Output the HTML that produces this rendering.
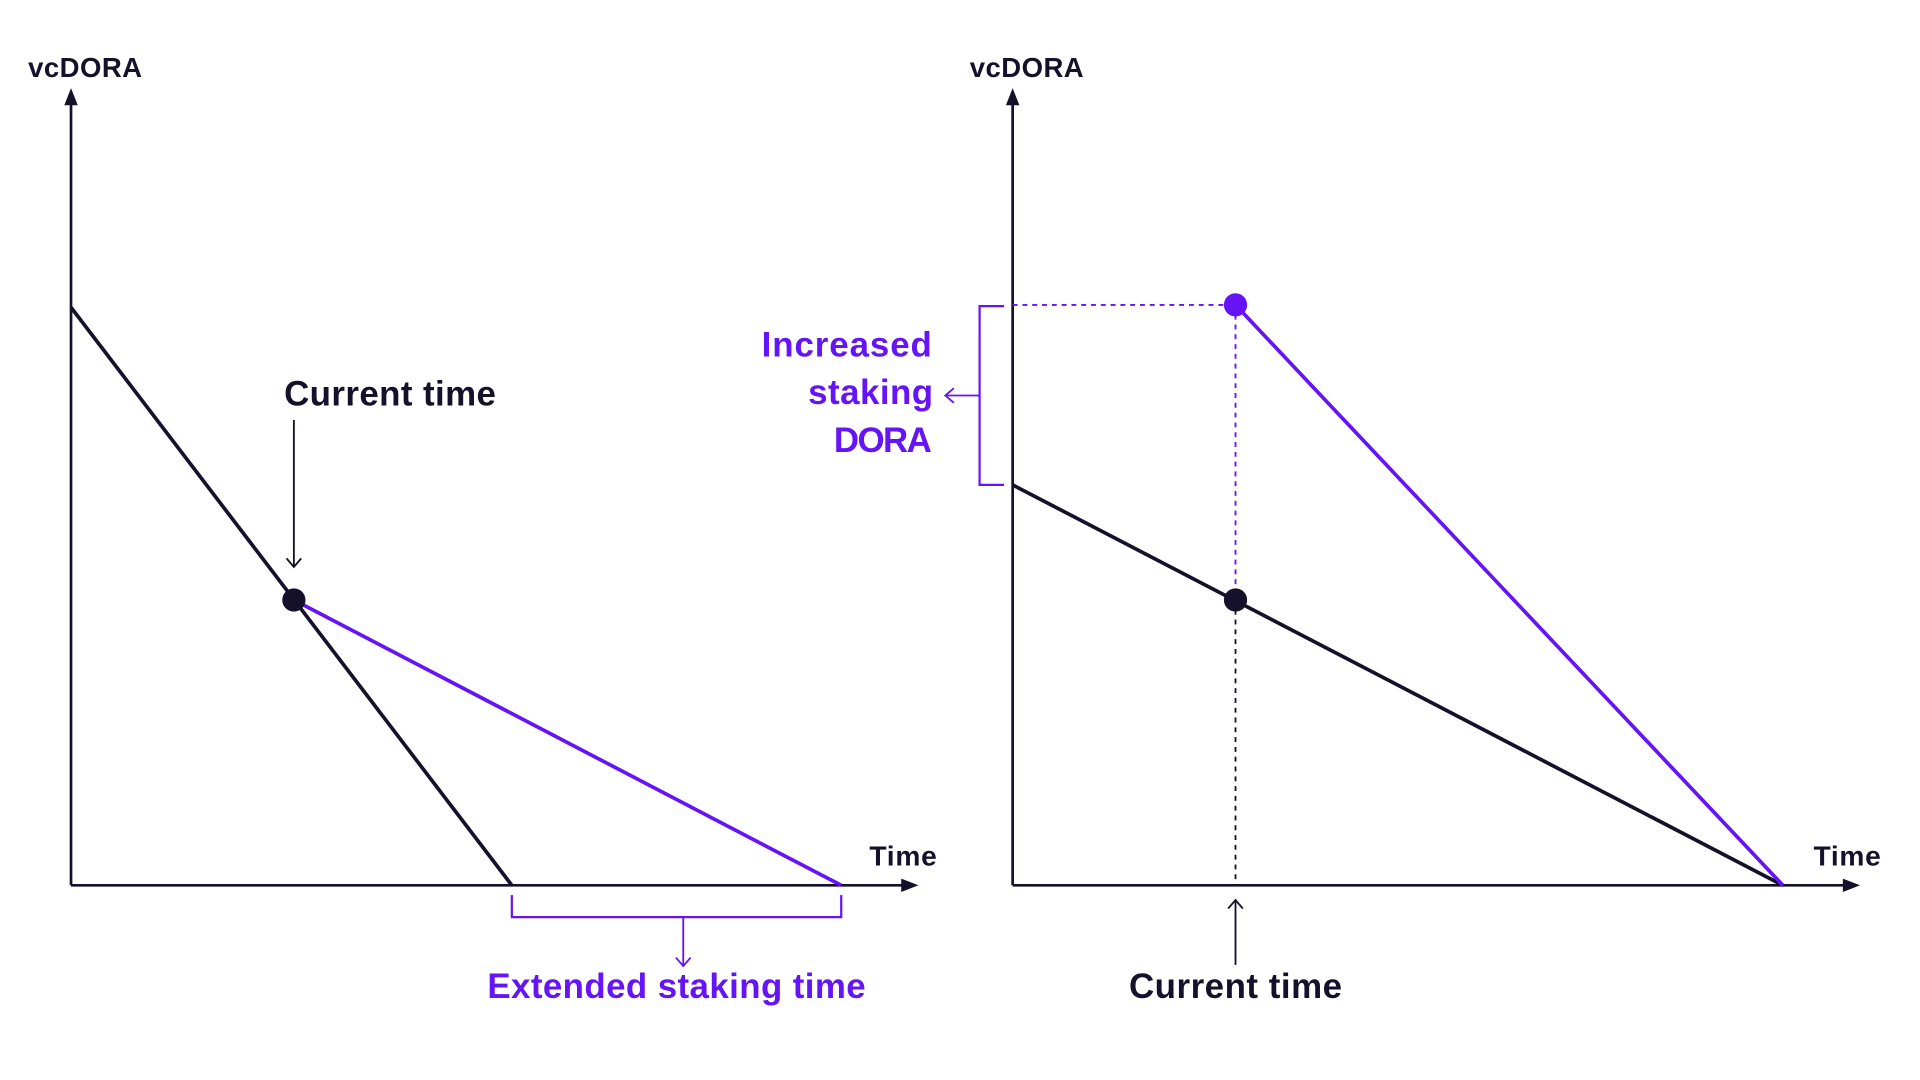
<!DOCTYPE html>
<html><head><style>html,body{margin:0;padding:0;background:#fff;}svg{display:block}</style></head>
<body>
<svg width="1920" height="1080" viewBox="0 0 1568 882" xmlns="http://www.w3.org/2000/svg" font-family="Liberation Sans, sans-serif" font-weight="bold">
<g stroke="#15112a" stroke-width="2.2" fill="none">
<line x1="58" y1="723" x2="58" y2="80"/>
<line x1="58" y1="723" x2="740" y2="723"/>
<line x1="827" y1="723" x2="827" y2="80"/>
<line x1="827" y1="723" x2="1509" y2="723"/>
</g>
<path d="M58,72 L52.5,86 L63.5,86 z" fill="#15112a"/>
<path d="M750,723 L736,717.5 L736,728.5 z" fill="#15112a"/>
<path d="M827,72 L821.5,86 L832.5,86 z" fill="#15112a"/>
<path d="M1519,723 L1505,717.5 L1505,728.5 z" fill="#15112a"/>
<g fill="#15112a">
<text x="23" y="63" font-size="22.5" textLength="93">vcDORA</text>
<text x="792" y="63" font-size="22.5" textLength="93">vcDORA</text>
<text x="710" y="707" font-size="23" textLength="55">Time</text>
<text x="1481" y="707" font-size="23" textLength="55">Time</text>
</g>
<line x1="58" y1="251" x2="418" y2="723" stroke="#15112a" stroke-width="3"/>
<line x1="240" y1="490" x2="687" y2="723" stroke="#6414f5" stroke-width="3"/>
<circle cx="240" cy="490" r="9.5" fill="#15112a"/>
<line x1="240" y1="343" x2="240" y2="463" stroke="#15112a" stroke-width="1.5"/>
<path d="M234,456 L240,463 L246,456" stroke="#15112a" stroke-width="1.5" fill="none"/>
<text x="232" y="331" font-size="28.5" fill="#15112a" textLength="173">Current time</text>
<path d="M418,731 L418,749 L687,749 L687,731" stroke="#6414f5" stroke-width="1.8" fill="none"/>
<line x1="558" y1="749" x2="558" y2="789" stroke="#6414f5" stroke-width="1.5"/>
<path d="M552,782 L558,789 L564,782" stroke="#6414f5" stroke-width="1.5" fill="none"/>
<text x="398" y="815" font-size="28.5" fill="#6414f5" textLength="309">Extended staking time</text>
<line x1="827" y1="396" x2="1456" y2="723" stroke="#15112a" stroke-width="3"/>
<line x1="1009" y1="249" x2="1456" y2="723" stroke="#6414f5" stroke-width="3"/>
<line x1="827" y1="249" x2="1009" y2="249" stroke="#6414f5" stroke-width="1.5" stroke-dasharray="4,4"/>
<line x1="1009" y1="249" x2="1009" y2="490" stroke="#6414f5" stroke-width="1.5" stroke-dasharray="4,4"/>
<line x1="1009" y1="490" x2="1009" y2="723" stroke="#15112a" stroke-width="1.5" stroke-dasharray="4,4"/>
<circle cx="1009" cy="249" r="9.5" fill="#6414f5"/>
<circle cx="1009" cy="490" r="9.5" fill="#15112a"/>
<line x1="1009" y1="735" x2="1009" y2="788" stroke="#15112a" stroke-width="1.5"/>
<path d="M1003,742 L1009,735 L1015,742" stroke="#15112a" stroke-width="1.5" fill="none"/>
<text x="922" y="815" font-size="28.5" fill="#15112a" textLength="174">Current time</text>
<path d="M820,250 L800,250 L800,396 L820,396" stroke="#6414f5" stroke-width="1.8" fill="none"/>
<line x1="800" y1="323" x2="772" y2="323" stroke="#6414f5" stroke-width="1.5"/>
<path d="M779,317 L772,323 L779,329" stroke="#6414f5" stroke-width="1.5" fill="none"/>
<g font-size="28.5" fill="#6414f5">
<text x="622" y="291" textLength="139">Increased</text>
<text x="660" y="330" textLength="102">staking</text>
<text x="681" y="369" textLength="80">DORA</text>
</g>
</svg>
</body></html>
